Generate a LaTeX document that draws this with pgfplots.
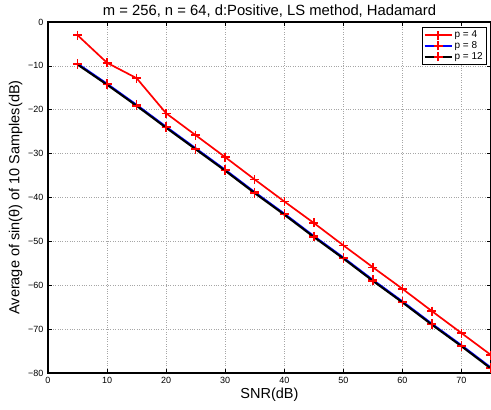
\documentclass[border=0pt]{standalone}
\usepackage{fontspec}
\setmainfont{Liberation Sans}
\usepackage{pgfplots}
\pgfplotsset{compat=1.18}
\begin{document}
\begin{tikzpicture}
\begin{axis}[
    name=ax,
    scale only axis,
    width=443pt, height=351pt,
    xmin=0, xmax=75, ymin=-80, ymax=0,
    xtick={0,10,...,70},
    ytick={-80,-70,...,0},
    yticklabels={−80,−70,−60,−50,−40,−30,−20,−10,0},
    tick align=inside,
    tick style={black, line width=0.6pt},
    major tick length=4pt,
    axis line style={black, line width=1.2pt},
    grid=major,
    grid style={dotted, gray!70, line width=0.6pt},
    /pgf/number format/assume math mode=true,
    tick label style={font=\fontsize{9}{10}\selectfont},
    yticklabel style={xshift=-1pt},
    xticklabel style={yshift=-1pt},
    label style={font=\fontsize{14.5}{16}\selectfont},
    xlabel={SNR(dB)},
    ylabel={Average of sin(θ) of 10 Samples(dB)},
    xlabel style={yshift=3pt},
    ylabel style={yshift=-1pt},
    title={m = 256, n = 64, d:Positive, LS method, Hadamard},
    title style={font=\fontsize{14.8}{16}\selectfont, yshift=-5pt},
    legend style={at={(0.99,0.986)}, anchor=north east, font=\fontsize{10}{11}\selectfont,
        draw=black, line width=0.8pt, inner sep=1.5pt, row sep=-1.5pt},
    legend cell align=left,
    legend image code/.code={
        \draw[#1, mark=none] (0cm,0cm) -- (0.95cm,0cm);
        \draw[red, line width=1.4pt] (0.475cm,-4.5pt) -- (0.475cm,4.5pt) (0.475cm-4.5pt,0cm) -- (0.475cm+4.5pt,0cm);
    },
    clip marker paths=true,
]
\addplot[red, line width=1.7pt, mark=+, mark size=4.5pt, mark options={red, line width=1.5pt}] coordinates {
    (5,-3) (10,-9.3) (15,-12.8) (20,-20.8) (25,-25.8) (30,-30.8) (35,-35.9) (40,-40.9)
    (45,-45.8) (50,-50.9) (55,-55.9) (60,-60.8) (65,-65.9) (70,-70.9) (75,-75.9)
};
\addplot[blue, line width=2pt, mark=+, mark size=4.5pt, mark options={red, line width=1.5pt}] coordinates {
    (5,-9.5) (10,-14.1) (15,-18.9) (20,-23.9) (25,-28.8) (30,-33.7) (35,-38.8) (40,-43.7)
    (45,-48.8) (50,-53.7) (55,-58.8) (60,-63.7) (65,-68.8) (70,-73.7) (75,-78.8)
};
\addplot[black, line width=2pt, mark=+, mark size=4.5pt, mark options={red, line width=1.5pt}] coordinates {
    (5,-9.7) (10,-14.3) (15,-19.1) (20,-24.1) (25,-29.0) (30,-33.9) (35,-39.0) (40,-43.9)
    (45,-49.0) (50,-53.9) (55,-59.0) (60,-63.9) (65,-69.0) (70,-73.9) (75,-79.0)
};
\legend{p = 4, p = 8, p = 12}
\end{axis}
\pgfresetboundingbox
\useasboundingbox (-48pt,-37pt) rectangle (443pt,373pt);
\end{tikzpicture}
\end{document}
